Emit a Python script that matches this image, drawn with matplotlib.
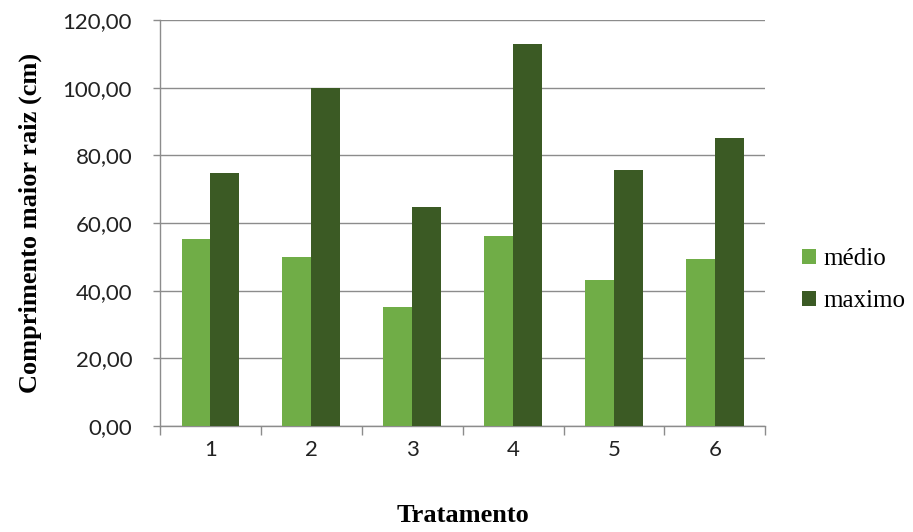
import matplotlib

matplotlib.use("Agg")

import matplotlib.pyplot as plt
import numpy as np
from matplotlib.ticker import FixedLocator, FuncFormatter

tratamentos = ["1", "2", "3", "4", "5", "6"]
medio = [55.3, 50.0, 35.3, 56.1, 43.3, 49.3]
maximo = [74.7, 100.0, 64.8, 113.0, 75.8, 85.0]
y_ticks = [0, 20, 40, 60, 80, 100, 120]

COLOR_MEDIO = "#70ad47"
COLOR_MAXIMO = "#3b5a24"
GRID_COLOR = "#8c8c8c"


def main():
    fig = plt.figure(figsize=(9.13, 5.32), dpi=100)
    ax = fig.add_axes([0.1752, 0.199, 0.663, 0.7635])

    x = np.arange(len(tratamentos))
    width = 1 / 3.5
    ax.bar(x - width / 2, medio, width, color=COLOR_MEDIO, label="médio", zorder=3)
    ax.bar(x + width / 2, maximo, width, color=COLOR_MAXIMO, label="maximo", zorder=3)

    ax.set_xlim(-0.5, len(tratamentos) - 0.5)
    ax.set_ylim(0, 120)
    ax.set_yticks(y_ticks)
    ax.yaxis.set_major_formatter(FuncFormatter(lambda v, _: f"{v:.2f}".replace(".", ",")))
    ax.yaxis.grid(True, color=GRID_COLOR, linewidth=1.0, zorder=0)

    ax.set_xticks(x)
    ax.set_xticklabels(tratamentos)
    ax.xaxis.set_minor_locator(FixedLocator(np.arange(-0.5, len(tratamentos), 1.0)))
    ax.tick_params(axis="x", which="major", length=0, pad=10)
    ax.tick_params(axis="x", which="minor", length=6.5, width=1.0, color=GRID_COLOR, direction="out")
    ax.tick_params(axis="y", length=5, width=1.0, color=GRID_COLOR, pad=15)

    for label in ax.get_xticklabels() + ax.get_yticklabels():
        label.set_fontfamily("Lato")
        label.set_fontsize(16)
        label.set_color("#222222")

    for side in ["top", "right"]:
        ax.spines[side].set_visible(False)
    for side in ["left", "bottom"]:
        ax.spines[side].set_color(GRID_COLOR)
        ax.spines[side].set_linewidth(1.0)

    ax.set_ylabel("Comprimento maior raiz (cm)", fontfamily="Liberation Serif",
                  fontweight="bold", fontsize=19, labelpad=15)
    ax.set_xlabel("Tratamento", fontfamily="Liberation Serif",
                  fontweight="bold", fontsize=19, labelpad=32)

    ax.legend(loc="center left", bbox_to_anchor=(802 / 913, 1 - 280 / 532),
              bbox_transform=fig.transFigure, frameon=False, borderaxespad=0,
              borderpad=0, prop={"family": "Liberation Serif", "size": 18},
              handlelength=0.55, handleheight=0.55, handletextpad=0.3,
              labelspacing=0.8)

    fig.savefig("out.png", dpi=100)
    plt.close(fig)


if __name__ == "__main__":
    main()
